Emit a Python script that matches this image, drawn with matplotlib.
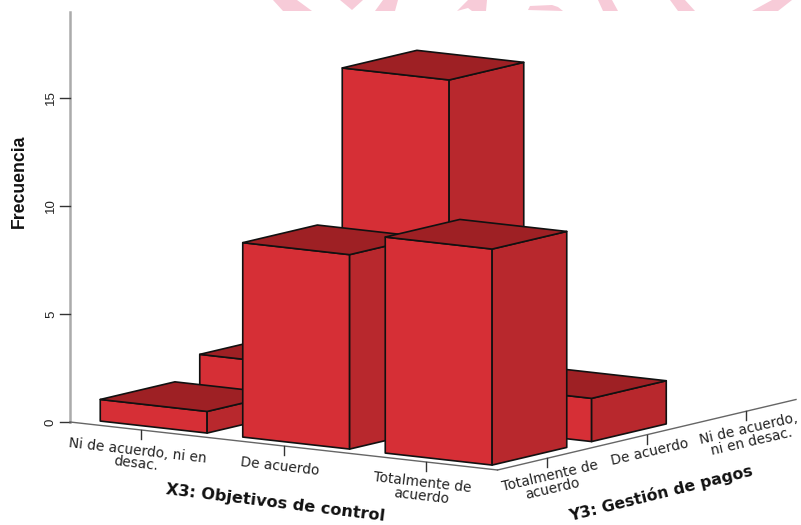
"""
plot.py
3D-style bar chart of X3 against Y3, projected by hand onto a flat axes.
"""

import matplotlib
matplotlib.use("Agg")
import matplotlib.pyplot as plt
from matplotlib.patches import Polygon

X_LABELS = ["Ni de acuerdo, ni en\ndesac.", "De acuerdo", "Totalmente de\nacuerdo"]
Y_LABELS = ["Totalmente de\nacuerdo", "De acuerdo", "Ni de acuerdo,\nni en desac."]
Z_TICKS = [0, 5, 10, 15]

# frequency per X3 category (columns), one row per Y3 category
FREQ_ROW_TOTALMENTE = [1, 9, 10]
FREQ_ROW_DE_ACUERDO = [2, 16, 2]
FREQ_ROW_NI = [0, 0, 0]
FREQUENCIES = [FREQ_ROW_TOTALMENTE, FREQ_ROW_DE_ACUERDO, FREQ_ROW_NI]

FRONT = "#D62F36"
SIDE = "#B8282D"
TOP = "#9E2024"
PINK = "#F7CBD8"
BAR_WIDTH = 0.75

# screen position of the floor corner and the step per unit on each axis
ORIGIN = (70.0, 422.0)
X_STEP = (142.5, 16.0)
Y_STEP = (99.5, -23.5)
Z_STEP = -21.6

# pale logo fragments along the top edge
WATERMARK = [
    [(273, 0), (297, 0), (312, 11), (283, 11)],
    [(340, 0), (363, 0), (352, 10)],
    [(383, 0), (398, 0), (395, 11), (375, 11)],
    [(468, 0), (487, 0), (486, 11), (472, 11), (468, 8), (457, 11)],
    [(528, 10), (530, 6), (552, 5), (558, 7), (563, 11)],
    [(598, 0), (612, 0), (618, 11), (603, 11)],
    [(670, 0), (685, 0), (695, 11), (678, 11)],
    [(772, 0), (792, 0), (778, 11), (752, 11)],
]


def project(x, y, z=0.0):
    """Map category x, category y and height z to screen pixels."""
    sx = ORIGIN[0] + (x + 0.5) * X_STEP[0] + (y + 0.5) * Y_STEP[0]
    sy = ORIGIN[1] + (x + 0.5) * X_STEP[1] + (y + 0.5) * Y_STEP[1] + z * Z_STEP
    return sx, sy


def draw_bar(ax, x, y, height):
    half = BAR_WIDTH / 2
    x0, x1 = x - half, x + half
    y0, y1 = y - half, y + half
    front = [project(x0, y0, 0), project(x1, y0, 0), project(x1, y0, height), project(x0, y0, height)]
    side = [project(x1, y0, 0), project(x1, y1, 0), project(x1, y1, height), project(x1, y0, height)]
    top = [project(x0, y0, height), project(x1, y0, height), project(x1, y1, height), project(x0, y1, height)]
    for pts, col in ((front, FRONT), (side, SIDE), (top, TOP)):
        ax.add_patch(Polygon(pts, closed=True, facecolor=col, edgecolor="#111111",
                             linewidth=1.2, joinstyle="round", zorder=3))


def draw_axes(ax):
    # vertical frequency axis
    base = project(-0.5, -0.5, 0)
    top = project(-0.5, -0.5, 19)
    ax.plot([base[0], top[0]], [base[1], top[1]], color="#ABABAB", lw=1.8, zorder=2)
    for z in Z_TICKS:
        px, py = project(-0.5, -0.5, z)
        ax.plot([px - 10, px], [py, py], color="#333333", lw=1.0, zorder=2)
        ax.text(px - 19, py, str(z), rotation=90, ha="center", va="center",
                fontsize=9.5, color="#222222", family="Liberation Sans")
    ax.text(19, 181, "Frecuencia", rotation=90, ha="center", va="center",
            fontsize=12.7, fontweight="bold", color="#111111", family="Liberation Sans")

    # floor edges
    corner = project(2.5, -0.5)
    end = project(2.5, 2.5)
    ax.plot([base[0], corner[0]], [base[1], corner[1]], color="#666666", lw=1.0, zorder=2)
    ax.plot([corner[0], end[0]], [corner[1], end[1]], color="#666666", lw=1.0, zorder=2)

    for i, label in enumerate(X_LABELS):
        px, py = project(i, -0.5)
        ax.plot([px, px], [py, py + 9], color="#333333", lw=1.0, zorder=2)
        ax.text(px - 3, py + 14, label, rotation=-6.5, rotation_mode="anchor",
                ha="center", va="top", fontsize=9.9, linespacing=0.92,
                color="#222222", family="DejaVu Sans")

    for i, label in enumerate(Y_LABELS):
        px, py = project(2.5, i)
        ax.plot([px, px], [py, py + 9], color="#333333", lw=1.0, zorder=2)
        ax.text(px + 1, py + 11, label, rotation=13, rotation_mode="anchor",
                ha="center", va="top", fontsize=9.9, linespacing=0.92,
                color="#222222", family="DejaVu Sans")

    ax.text(275, 503, "X3: Objetivos de control", rotation=-7, rotation_mode="anchor",
            ha="center", va="center", fontsize=11.6, fontweight="bold",
            color="#111111", family="DejaVu Sans")
    ax.text(661, 493, "Y3: Gestión de pagos", rotation=14, rotation_mode="anchor",
            ha="center", va="center", fontsize=11.3, fontweight="bold",
            color="#111111", family="DejaVu Sans")


def main():
    fig = plt.figure(figsize=(8.01, 5.25), dpi=100)
    ax = fig.add_axes([0, 0, 1, 1])
    ax.set_xlim(0, 801)
    ax.set_ylim(525, 0)
    ax.axis("off")

    for pts in WATERMARK:
        ax.add_patch(Polygon(pts, closed=True, facecolor=PINK, edgecolor="none", zorder=1))

    draw_axes(ax)

    # back rows first, left to right, so nearer bars cover the ones behind
    for y in range(len(FREQUENCIES) - 1, -1, -1):
        for x, value in enumerate(FREQUENCIES[y]):
            if value > 0:
                draw_bar(ax, x, y, value)

    fig.savefig("out.png", dpi=100)
    plt.close(fig)


if __name__ == "__main__":
    main()
